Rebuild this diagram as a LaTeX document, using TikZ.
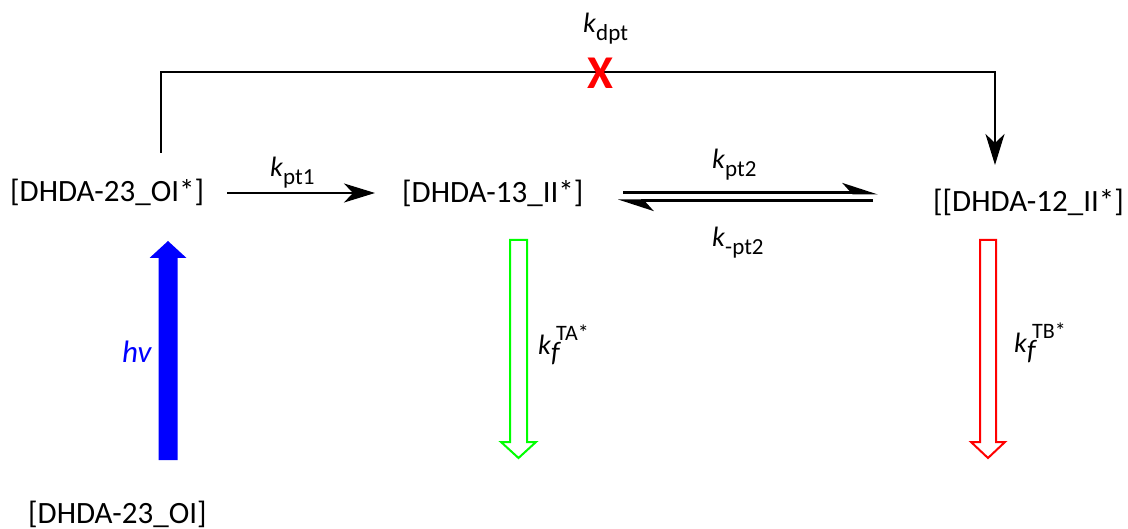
\documentclass[tikz,border=0pt]{standalone}
\usepackage{fontspec}
\setmainfont{Carlito}
\usetikzlibrary{arrows.meta}
\definecolor{arrgreen}{RGB}{0,255,0}
\definecolor{arrred}{RGB}{255,0,0}
\definecolor{arrblue}{RGB}{0,0,255}
\newcommand{\krate}[1]{\textit{k}\raisebox{-8pt}{\fontsize{23}{23}\selectfont #1}}
\newcommand{\kfl}[1]{\textit{k}\rlap{\raisebox{-7pt}{\textit{f}}}\hspace{5pt}\raisebox{14pt}{\fontsize{22}{22}\selectfont #1}}
\begin{document}
\begin{tikzpicture}[x=1pt,y=-1pt,
  species/.style={inner sep=0pt, anchor=base west, font=\fontsize{31}{31}\selectfont},
  rate/.style={inner sep=0pt, anchor=base west, font=\fontsize{28}{28}\selectfont},
  conn/.style={line width=2.5pt, black},
  tipA/.style={-{Stealth[length=31pt,width=19pt,inset=9pt]}},
  harp/.style={-{Stealth[harpoon,length=31pt,width=20pt,inset=9pt]}},
  hollow/.style={line width=2pt, fill=white}
]
\useasboundingbox (0,0) rectangle (1128,529);

% species
\node[species] (s23) at (10,202) {[DHDA-23\_OI*]};
\node[species] (s13) at (402,203) {[DHDA-13\_II*]};
\node[species] (s12) at (933,212) {[[DHDA-12\_II*]};
\node[species] (g) at (28,523) {[DHDA-23\_OI]};

% rate labels
\node[rate] (kdpt) at (583,33) {\krate{dpt}};
\node[rate] (kpt1) at (270,177) {\krate{pt1}};
\node[rate] (kpt2) at (712,169) {\krate{pt2}};
\node[rate] (kmpt2) at (712,247) {\krate{-pt2}};
\node[rate] (kfA) at (538,355) {\kfl{TA*}};
\node[rate] (kfB) at (1014,353) {\kfl{TB*}};
\node[inner sep=0pt, anchor=base west, font=\fontsize{31}{31}\selectfont\itshape, text=arrblue] (hv) at (122,363) {hv};

% blocked direct path
\coordinate (dptstart) at (161,153);
\coordinate (topl) at (161,72);
\coordinate (dptend) at (995,165);
\draw[conn, tipA] (dptstart) -- (topl) -| (dptend);
\node[inner sep=0pt, font=\fontsize{47}{47}\selectfont\bfseries, text=arrred] (cross) at (600,73) {X};

% kpt1
\coordinate (p1a) at (227,193);
\coordinate (p1b) at (375,193);
\draw[conn, tipA] (p1a) -- (p1b);

% equilibrium
\coordinate (e1a) at (623,193);
\coordinate (e1b) at (878,193);
\coordinate (e2a) at (873,201);
\coordinate (e2b) at (618,201);
\draw[conn, line width=3pt, harp] (e1a) -- (e1b);
\draw[conn, line width=3pt, harp] (e2a) -- (e2b);

% excitation arrow
\fill[arrblue] (158.5,460) -- (158.5,258) -- (149.5,258) -- (168,241) -- (186.5,258) -- (177.5,258) -- (177.5,460) -- cycle;

% fluorescence arrows
\draw[hollow, draw=arrgreen] (510,240) -- (510,442) -- (501,442) -- (518.5,458) -- (536,442) -- (527,442) -- (527,240) -- cycle;
\draw[hollow, draw=arrred] (980,240) -- (980,442) -- (971,442) -- (988,458) -- (1005,442) -- (996,442) -- (996,240) -- cycle;
\end{tikzpicture}
\end{document}
